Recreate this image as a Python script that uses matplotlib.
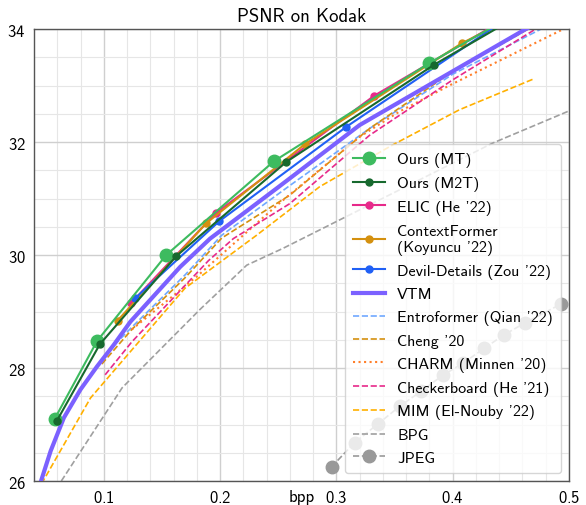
import matplotlib
matplotlib.use("Agg")
import matplotlib.pyplot as plt
from matplotlib.ticker import MultipleLocator

plt.rcParams['font.family'] = ['cmss10', 'DejaVu Sans']
plt.rcParams['axes.formatter.use_mathtext'] = True

# ---- data (bpp, PSNR) ----
mt_x = [0.0578, 0.0943, 0.1537, 0.2463, 0.3794, 0.55]
mt_y = [27.10, 28.48, 30.00, 31.66, 33.39, 35.40]

m2t_x = [0.0595, 0.0966, 0.1623, 0.2571, 0.3842, 0.55]
m2t_y = [27.06, 28.42, 29.98, 31.65, 33.37, 35.35]

elic_x = [0.1235, 0.1962, 0.3326, 0.48]
elic_y = [29.15, 30.74, 32.82, 34.60]

ctx_x = [0.1119, 0.1880, 0.2728, 0.4080, 0.52]
ctx_y = [28.84, 30.56, 31.96, 33.75, 34.90]

devil_x = [0.1272, 0.1994, 0.3086, 0.48]
devil_y = [29.24, 30.60, 32.27, 34.65]

vtm_x = [0.0445, 0.0543, 0.0657, 0.0800, 0.0943, 0.1086, 0.1229, 0.1657, 0.1914, 0.2500, 0.3200, 0.4629, 0.52]
vtm_y = [25.90, 26.53, 27.12, 27.62, 28.03, 28.41, 28.82, 29.79, 30.29, 31.20, 32.30, 34.00, 34.60]

entro_x = [0.1040, 0.1240, 0.1700, 0.2014, 0.2600, 0.3286, 0.4000, 0.4760]
entro_y = [28.30, 28.72, 29.65, 30.35, 31.23, 32.24, 33.20, 34.00]

cheng_x = [0.0983, 0.1240, 0.1700, 0.2014, 0.2600, 0.3286, 0.4000, 0.4650]
cheng_y = [28.07, 28.68, 29.60, 30.30, 31.06, 32.24, 33.25, 34.00]

charm_x = [0.1240, 0.1800, 0.2500, 0.3199, 0.3543, 0.3971, 0.4914, 0.5100]
charm_y = [28.68, 29.62, 30.90, 32.09, 32.54, 33.00, 33.96, 34.15]

checker_x = [0.1012, 0.1240, 0.1900, 0.2114, 0.2600, 0.3286, 0.4000, 0.4714]
checker_y = [27.88, 28.46, 29.90, 30.29, 30.91, 32.12, 33.10, 34.00]

mim_x = [0.0465, 0.0886, 0.1697, 0.2314, 0.2857, 0.3485, 0.4057, 0.4700]
mim_y = [25.95, 27.47, 29.41, 30.35, 31.21, 31.95, 32.57, 33.12]

bpg_x = [0.0635, 0.1158, 0.1829, 0.2229, 0.2543, 0.4343, 0.5000, 0.5200]
bpg_y = [26.00, 27.65, 29.04, 29.82, 30.12, 31.98, 32.55, 32.75]

jpeg_x = [0.2958, 0.3157, 0.3357, 0.3543, 0.3729, 0.3914, 0.4092, 0.4272, 0.4443, 0.4623, 0.4929, 0.5300]
jpeg_y = [26.25, 26.68, 27.01, 27.32, 27.59, 27.87, 28.09, 28.35, 28.59, 28.80, 29.13, 29.45]

fig = plt.figure(figsize=(5.86, 5.06), dpi=100)
ax = fig.add_axes([0.058, 0.0474, 0.913, 0.8933])

ax.plot(mt_x, mt_y, '-o', color='#3dbb5f', lw=1.5, ms=9, label='Ours (MT)', zorder=5)
ax.plot(m2t_x, m2t_y, '-o', color='#17692e', lw=1.5, ms=5, label='Ours (M2T)', zorder=6)
ax.plot(elic_x, elic_y, '-o', color='#e7298a', lw=1.5, ms=5, label="ELIC (He '22)", zorder=4)
ax.plot(ctx_x, ctx_y, '-o', color='#d4900f', lw=1.5, ms=5, label="ContextFormer\n(Koyuncu '22)", zorder=4)
ax.plot(devil_x, devil_y, '-o', color='#2060f5', lw=1.5, ms=5, label="Devil-Details (Zou '22)", zorder=4)
ax.plot(vtm_x, vtm_y, '-', color='#7b61ff', lw=3, label='VTM', zorder=3)
ax.plot(entro_x, entro_y, '--', color='#6fa8ff', lw=1.2, label="Entroformer (Qian '22)", zorder=2)
ax.plot(cheng_x, cheng_y, '--', color='#d4900f', lw=1.2, label="Cheng '20", zorder=2)
ax.plot(charm_x, charm_y, ':', color='#ff7f2a', lw=1.5, label="CHARM (Minnen '20)", zorder=2)
ax.plot(checker_x, checker_y, '--', color='#e7298a', lw=1.2, label="Checkerboard (He '21)", zorder=2)
ax.plot(mim_x, mim_y, '--', color='#ffb000', lw=1.2, label="MIM (El-Nouby '22)", zorder=2)
ax.plot(bpg_x, bpg_y, '--', color='#a0a0a0', lw=1.2, label='BPG', zorder=2)
ax.plot(jpeg_x, jpeg_y, '--o', color='#999999', lw=1.2, ms=9, label='JPEG', zorder=2)

ax.set_xlim(0.04, 0.5)
ax.set_ylim(26, 34)
ax.xaxis.set_major_locator(MultipleLocator(0.1))
ax.xaxis.set_minor_locator(MultipleLocator(0.02))
ax.yaxis.set_major_locator(MultipleLocator(2))
ax.yaxis.set_minor_locator(MultipleLocator(0.5))
ax.grid(which='major', color='#cfcfcf', lw=1.0)
ax.grid(which='minor', color='#e6e6e6', lw=0.8)
ax.set_axisbelow(True)
ax.tick_params(which='both', length=0, labelsize=12, pad=6)
for s in ax.spines.values():
    s.set_color('#555555')
    s.set_linewidth(1.0)

ax.set_title('PSNR on Kodak', fontsize=13.5, pad=6)
ax.set_xlabel('bpp', fontsize=12, labelpad=-12)

leg = ax.legend(loc='lower right', fontsize=11.5, framealpha=0.8, handlelength=2.0,
                labelspacing=0.54, borderpad=0.5)
leg.get_frame().set_edgecolor('#cccccc')

fig.savefig('out.png', dpi=100)
